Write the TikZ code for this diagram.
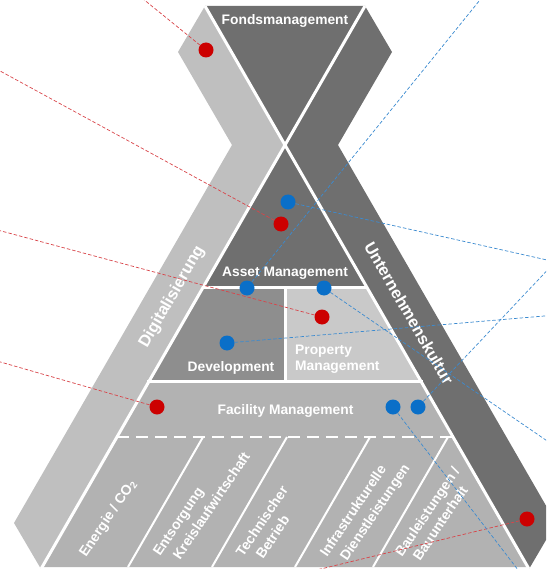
\documentclass[tikz,border=0pt]{standalone}
\usepackage{fontspec}
\setmainfont{Liberation Sans}
\definecolor{lightband}{HTML}{BFBFBF}
\definecolor{darkband}{HTML}{6F6F6F}
\definecolor{devgray}{HTML}{8E8E8E}
\definecolor{propgray}{HTML}{C9C9C9}
\definecolor{facgray}{HTML}{B2B2B2}
\definecolor{dotred}{HTML}{CC0000}
\definecolor{dotblue}{HTML}{0A6FC8}
\definecolor{linered}{HTML}{D8454A}
\definecolor{lineblue}{HTML}{3C8BD0}
\begin{document}
\begin{tikzpicture}[x=1pt,y=-1pt,
  sep/.style={white,line width=3pt},
  thinsep/.style={white,line width=2pt},
  lbl/.style={text=white,font=\fontsize{13.8}{16}\selectfont\bfseries,inner sep=0pt},
  bandlbl/.style={text=white,font=\fontsize{16.5}{19}\selectfont\bfseries,inner sep=0pt},
  collbl/.style={text=white,font=\fontsize{14}{16}\selectfont\bfseries,inner sep=0pt,rotate=56,anchor=base west},
  rdot/.style={circle,fill=dotred,inner sep=0pt,minimum size=15pt},
  bdot/.style={circle,fill=dotblue,inner sep=0pt,minimum size=15pt},
  rdash/.style={linered,line width=0.7pt,dash pattern=on 3.5pt off 2pt},
  bdash/.style={lineblue,line width=0.7pt,dash pattern=on 3.5pt off 2pt}]
\useasboundingbox (0,0) rectangle (546,569);
\clip (0,0) rectangle (546,569);
% Fondsmanagement triangle
\fill[darkband] (205,6) -- (365,6) -- (285,145) -- cycle;
% bands
\fill[lightband] (205,6) -- (178,52) -- (232,145) -- (14,523) -- (41,569) -- (285,145) -- cycle;
\fill[darkband] (365,6) -- (392,52) -- (338,145) -- (556,523) -- (529,569) -- (285,145) -- cycle;
% pyramid
\fill[facgray] (285,145) -- (528.5,567) -- (41.5,567) -- cycle;
\fill[darkband] (285,145) -- (366.4,286) -- (203.6,286) -- cycle;
\fill[devgray] (203.6,286) -- (285,286) -- (285,381) -- (148.8,381) -- cycle;
\fill[propgray] (285,286) -- (366.4,286) -- (421.2,381) -- (285,381) -- cycle;
% white separators
\draw[sep] (205,6) -- (529,569);
\draw[sep] (365,6) -- (41,569);
\draw[sep] (203,287) -- (367,287);
\draw[sep] (147,381) -- (423,381);
\draw[sep] (285,287) -- (285,381);
\draw[white,line width=2pt,dash pattern=on 12pt off 7pt] (117,437) -- (453,437);
\draw[thinsep] (203,437) -- (128,567);
\draw[thinsep] (287,437) -- (212,567);
\draw[thinsep] (370,437) -- (295,567);
\draw[thinsep] (448,437) -- (373,567);
% labels
\node[lbl,anchor=base] (fonds) at (285,25) {Fondsmanagement};
\node[lbl,anchor=base] (asset) at (285,276) {Asset Management};
\node[lbl,anchor=base] (dev) at (231,371) {Development};
\node[lbl,anchor=north west,align=left] (prop) at (295,345) {Property\\Management};
\node[lbl,anchor=base] (fac) at (285.5,414) {Facility Management};
\node[bandlbl,rotate=60] (digi) at (172,297) {Digitalisierung};
\node[bandlbl,rotate=-60] (untern) at (409,313) {Unternehmenskultur};
\node[collbl] (c1) at (86,558) {Energie / CO\textsubscript{2}};
\node[collbl] (c2a) at (160,557) {Entsorgung};
\node[collbl] (c2b) at (180,561) {Kreislaufwirtschaft};
\node[collbl] (c3a) at (243,558) {Technischer};
\node[collbl] (c3b) at (263,560) {Betrieb};
\node[collbl] (c4a) at (327,558) {Infrastrukturelle};
\node[collbl] (c4b) at (347,562) {Dienstleistungen};
\node[collbl] (c5a) at (402,558) {Bauleistungen /};
\node[collbl] (c5b) at (420,562) {Bauunterhalt};
% dots
\node[rdot] (r1) at (206,50) {};
\node[rdot] (r2) at (281,224) {};
\node[rdot] (r3) at (322,317) {};
\node[rdot] (r4) at (157,407) {};
\node[rdot] (r5) at (527,519) {};
\node[bdot] (b1) at (288,202) {};
\node[bdot] (b2) at (247,288) {};
\node[bdot] (b3) at (324,288) {};
\node[bdot] (b4) at (227,343) {};
\node[bdot] (b5) at (393,407) {};
\node[bdot] (b6) at (418,407) {};
% free ends
\coordinate (r1e) at (132,-10);
\coordinate (r2e) at (-10,65.5);
\coordinate (r3e) at (-10,228);
\coordinate (r4e) at (-10,359);
\coordinate (r5e) at (300,574);
\coordinate (b1e) at (556,262);
\coordinate (b2e) at (488,-10);
\coordinate (b3e) at (556,447);
\coordinate (b4e) at (556,315);
\coordinate (b5e) at (525,579);
\coordinate (b6e) at (556,261);
% connectors
\draw[rdash] (r1) -- (r1e);
\draw[rdash] (r2) -- (r2e);
\draw[rdash] (r3) -- (r3e);
\draw[rdash] (r4) -- (r4e);
\draw[rdash] (r5) -- (r5e);
\draw[bdash] (b1) -- (b1e);
\draw[bdash] (b2) -- (b2e);
\draw[bdash] (b3) -- (b3e);
\draw[bdash] (b4) -- (b4e);
\draw[bdash] (b5) -- (b5e);
\draw[bdash] (b6) -- (b6e);
\end{tikzpicture}
\end{document}
